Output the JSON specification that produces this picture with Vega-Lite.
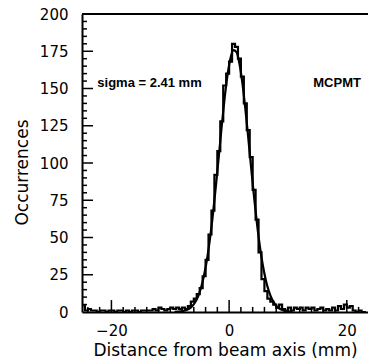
{
  "$schema": "https://vega.github.io/schema/vega-lite/v6.json",
  "width": 286,
  "height": 298,
  "autosize": "none",
  "padding": {"left": 82, "top": 14, "right": 0, "bottom": 48},
  "background": "white",
  "config": {
    "view": {"stroke": null},
    "font": "DejaVu Sans",
    "axis": {
      "grid": false,
      "domainColor": "black",
      "domainWidth": 2,
      "labelColor": "black",
      "titleColor": "black",
      "labelFontSize": 15,
      "titleFontSize": 17,
      "titleFontWeight": "normal"
    }
  },
  "datasets": {
    "hist": [
      {"x": -24.75, "n": 4}, {"x": -24.25, "n": 1}, {"x": -23.75, "n": 2}, {"x": -23.25, "n": 1},
      {"x": -22.75, "n": 1}, {"x": -22.25, "n": 0}, {"x": -21.75, "n": 1}, {"x": -21.25, "n": 1},
      {"x": -20.75, "n": 0}, {"x": -20.25, "n": 1}, {"x": -19.75, "n": 1}, {"x": -19.25, "n": 0},
      {"x": -18.75, "n": 1}, {"x": -18.25, "n": 1}, {"x": -17.75, "n": 0}, {"x": -17.25, "n": 1},
      {"x": -16.75, "n": 0}, {"x": -16.25, "n": 1}, {"x": -15.75, "n": 1}, {"x": -15.25, "n": 0},
      {"x": -14.75, "n": 1}, {"x": -14.25, "n": 1}, {"x": -13.75, "n": 1}, {"x": -13.25, "n": 1},
      {"x": -12.75, "n": 2}, {"x": -12.25, "n": 1}, {"x": -11.75, "n": 3}, {"x": -11.25, "n": 2},
      {"x": -10.75, "n": 1}, {"x": -10.25, "n": 2}, {"x": -9.75, "n": 3}, {"x": -9.25, "n": 2},
      {"x": -8.75, "n": 3}, {"x": -8.25, "n": 2}, {"x": -7.75, "n": 3}, {"x": -7.25, "n": 2},
      {"x": -6.75, "n": 4}, {"x": -6.25, "n": 7}, {"x": -5.75, "n": 9}, {"x": -5.25, "n": 12},
      {"x": -4.75, "n": 16}, {"x": -4.25, "n": 24}, {"x": -3.75, "n": 35}, {"x": -3.25, "n": 52},
      {"x": -2.75, "n": 68}, {"x": -2.25, "n": 92}, {"x": -1.75, "n": 108}, {"x": -1.25, "n": 128},
      {"x": -0.75, "n": 152}, {"x": -0.25, "n": 160}, {"x": 0.25, "n": 168}, {"x": 0.75, "n": 180},
      {"x": 1.25, "n": 178}, {"x": 1.75, "n": 170}, {"x": 2.25, "n": 158}, {"x": 2.75, "n": 140},
      {"x": 3.25, "n": 122}, {"x": 3.75, "n": 104}, {"x": 4.25, "n": 82}, {"x": 4.75, "n": 62},
      {"x": 5.25, "n": 40}, {"x": 5.75, "n": 22}, {"x": 6.25, "n": 14}, {"x": 6.75, "n": 9},
      {"x": 7.25, "n": 7}, {"x": 7.75, "n": 5}, {"x": 8.25, "n": 3}, {"x": 8.75, "n": 5},
      {"x": 9.25, "n": 2}, {"x": 9.75, "n": 1}, {"x": 10.25, "n": 3}, {"x": 10.75, "n": 1},
      {"x": 11.25, "n": 3}, {"x": 11.75, "n": 2}, {"x": 12.25, "n": 3}, {"x": 12.75, "n": 1},
      {"x": 13.25, "n": 3}, {"x": 13.75, "n": 2}, {"x": 14.25, "n": 3}, {"x": 14.75, "n": 1},
      {"x": 15.25, "n": 2}, {"x": 15.75, "n": 3}, {"x": 16.25, "n": 1}, {"x": 16.75, "n": 2},
      {"x": 17.25, "n": 1}, {"x": 17.75, "n": 3}, {"x": 18.25, "n": 1}, {"x": 18.75, "n": 4},
      {"x": 19.25, "n": 2}, {"x": 19.75, "n": 5}, {"x": 20.25, "n": 3}, {"x": 20.75, "n": 4},
      {"x": 21.25, "n": 1}, {"x": 21.75, "n": 0}, {"x": 22.25, "n": 1}, {"x": 22.75, "n": 0},
      {"x": 23.25, "n": 0}
    ],
    "fit": [
      {"x": -9.25, "y": 0.1}, {"x": -8.75, "y": 0.2}, {"x": -8.25, "y": 0.4}, {"x": -7.75, "y": 0.7},
      {"x": -7.25, "y": 1.3}, {"x": -6.75, "y": 2.3}, {"x": -6.25, "y": 4.0}, {"x": -5.75, "y": 6.7},
      {"x": -5.25, "y": 10.7}, {"x": -4.75, "y": 16.6}, {"x": -4.25, "y": 24.8}, {"x": -3.75, "y": 35.5},
      {"x": -3.25, "y": 49.2}, {"x": -2.75, "y": 65.7}, {"x": -2.25, "y": 84.5}, {"x": -1.75, "y": 104.7},
      {"x": -1.25, "y": 125.0}, {"x": -0.75, "y": 144.0}, {"x": -0.25, "y": 159.6}, {"x": 0.25, "y": 170.6},
      {"x": 0.75, "y": 175.7}, {"x": 1.25, "y": 174.4}, {"x": 1.75, "y": 166.8}, {"x": 2.25, "y": 153.8},
      {"x": 2.75, "y": 136.6}, {"x": 3.25, "y": 117.0}, {"x": 3.75, "y": 96.5}, {"x": 4.25, "y": 76.7},
      {"x": 4.75, "y": 58.8}, {"x": 5.25, "y": 43.4}, {"x": 5.75, "y": 30.9}, {"x": 6.25, "y": 21.2},
      {"x": 6.75, "y": 14.0}, {"x": 7.25, "y": 8.9}, {"x": 7.75, "y": 5.5}, {"x": 8.25, "y": 3.2},
      {"x": 8.75, "y": 1.8}, {"x": 9.25, "y": 1.0}, {"x": 9.75, "y": 0.5}, {"x": 10.25, "y": 0.3},
      {"x": 10.75, "y": 0.1}
    ],
    "ymajor": [{"v": 25}, {"v": 50}, {"v": 75}, {"v": 100}, {"v": 125}, {"v": 150}, {"v": 175}],
    "yminor": [
      {"v": 5}, {"v": 10}, {"v": 15}, {"v": 20}, {"v": 30}, {"v": 35}, {"v": 40}, {"v": 45},
      {"v": 55}, {"v": 60}, {"v": 65}, {"v": 70}, {"v": 80}, {"v": 85}, {"v": 90}, {"v": 95},
      {"v": 105}, {"v": 110}, {"v": 115}, {"v": 120}, {"v": 130}, {"v": 135}, {"v": 140}, {"v": 145},
      {"v": 155}, {"v": 160}, {"v": 165}, {"v": 170}, {"v": 180}, {"v": 185}, {"v": 190}, {"v": 195}
    ],
    "xmajor": [{"v": -20}, {"v": 0}, {"v": 20}],
    "xminor": [
      {"v": -24}, {"v": -22}, {"v": -18}, {"v": -16}, {"v": -14}, {"v": -12}, {"v": -10},
      {"v": -8}, {"v": -6}, {"v": -4}, {"v": -2}, {"v": 2}, {"v": 4}, {"v": 6}, {"v": 8},
      {"v": 10}, {"v": 12}, {"v": 14}, {"v": 16}, {"v": 18}, {"v": 22}
    ]
  },
  "layer": [
    {
      "data": {"name": "hist"},
      "mark": {"type": "line", "interpolate": "step", "color": "black", "strokeWidth": 2.2},
      "encoding": {
        "x": {
          "field": "x", "type": "quantitative",
          "scale": {"domain": [-25, 23.6], "nice": false, "zero": false},
          "axis": {"orient": "bottom", "values": [-20, 0, 20], "ticks": false, "labelPadding": 11, "title": "Distance from beam axis (mm)", "titlePadding": 4}
        },
        "y": {
          "field": "n", "type": "quantitative",
          "scale": {"domain": [0, 200], "nice": false},
          "axis": {"orient": "left", "values": [0, 25, 50, 75, 100, 125, 150, 175, 200], "ticks": false, "labelPadding": 14, "title": "Occurrences", "titlePadding": 8, "titleY": 158}
        }
      }
    },
    {
      "data": {"name": "fit"},
      "mark": {"type": "line", "interpolate": "monotone", "color": "black", "strokeWidth": 2.2},
      "encoding": {
        "x": {"field": "x", "type": "quantitative", "axis": null},
        "y": {"field": "y", "type": "quantitative", "axis": null}
      }
    },
    {
      "data": {"name": "ymajor"},
      "mark": {"type": "rule", "color": "black", "strokeWidth": 1.5},
      "encoding": {
        "y": {"field": "v", "type": "quantitative", "axis": null},
        "x": {"datum": -25, "type": "quantitative", "axis": null},
        "x2": {"datum": -23.13}
      }
    },
    {
      "data": {"name": "yminor"},
      "mark": {"type": "rule", "color": "black", "strokeWidth": 1.5},
      "encoding": {
        "y": {"field": "v", "type": "quantitative", "axis": null},
        "x": {"datum": -25, "type": "quantitative", "axis": null},
        "x2": {"datum": -24.15}
      }
    },
    {
      "data": {"name": "xmajor"},
      "mark": {"type": "rule", "color": "black", "strokeWidth": 1.5},
      "encoding": {
        "x": {"field": "v", "type": "quantitative", "axis": null},
        "y": {"datum": 0, "type": "quantitative", "axis": null},
        "y2": {"datum": 8}
      }
    },
    {
      "data": {"name": "xminor"},
      "mark": {"type": "rule", "color": "black", "strokeWidth": 1.5},
      "encoding": {
        "x": {"field": "v", "type": "quantitative", "axis": null},
        "y": {"datum": 0, "type": "quantitative", "axis": null},
        "y2": {"datum": 3.4}
      }
    },
    {
      "data": {"values": [{}]},
      "mark": {"type": "rule", "color": "black", "strokeWidth": 2},
      "encoding": {"y": {"datum": 200, "type": "quantitative", "axis": null}}
    },
    {
      "data": {"values": [{}]},
      "mark": {"type": "text", "font": "Liberation Sans", "fontWeight": "bold", "fontSize": 13, "align": "left", "baseline": "middle", "color": "black"},
      "encoding": {
        "x": {"datum": -22.4, "type": "quantitative", "axis": null},
        "y": {"datum": 153.5, "type": "quantitative", "axis": null},
        "text": {"value": "sigma = 2.41 mm"}
      }
    },
    {
      "data": {"values": [{}]},
      "mark": {"type": "text", "font": "Liberation Sans", "fontWeight": "bold", "fontSize": 13, "align": "left", "baseline": "middle", "color": "black"},
      "encoding": {
        "x": {"datum": 14.3, "type": "quantitative", "axis": null},
        "y": {"datum": 153.5, "type": "quantitative", "axis": null},
        "text": {"value": "MCPMT"}
      }
    }
  ],
  "resolve": {"axis": {"x": "independent", "y": "independent"}}
}
